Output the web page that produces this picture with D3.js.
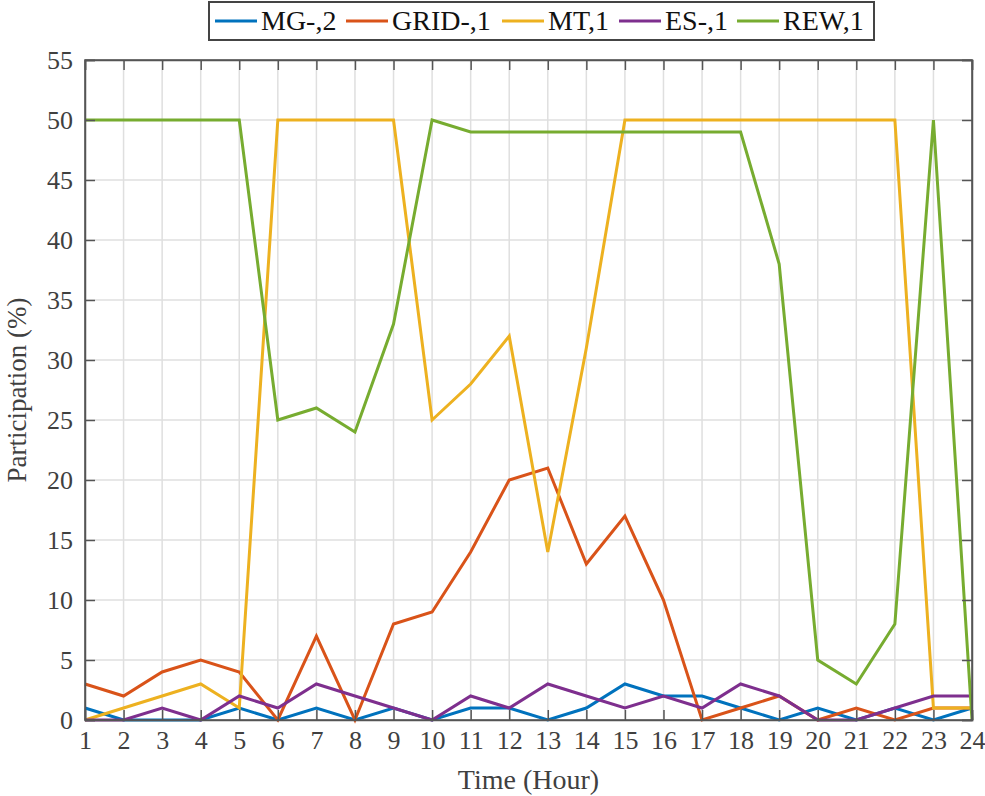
<!DOCTYPE html>
<html><head><meta charset="utf-8">
<script src="https://cdn.jsdelivr.net/npm/d3@7"></script>
<style>body{margin:0;background:#fff}</style>
</head><body>
<script>
const hours = d3.range(1, 25);
const seriesNames = ["MG-,2", "GRID-,1", "MT,1", "ES-,1", "REW,1"];
const colors = ["#0072BD", "#D95319", "#EDB120", "#7E2F8E", "#77AC30"];
const mg   = [1,0,0,0,1,0,1,0,1,0,1,1,0,1,3,2,2,1,0,1,0,1,0,1];
const grid = [3,2,4,5,4,0,7,0,8,9,14,20,21,13,17,10,0,1,2,0,1,0,1,1];
const mt   = [0,1,2,3,1,50,50,50,50,25,28,32,14,31,50,50,50,50,50,50,50,50,1,1];
const es   = [0,0,1,0,2,1,3,2,1,0,2,1,3,2,1,2,1,3,2,0,0,1,2,2];
const rew  = [50,50,50,50,50,25,26,24,33,50,49,49,49,49,49,49,49,49,38,5,3,8,50,0];
const yTicks = d3.range(0, 56, 5);
const allSeries = [mg, grid, mt, es, rew];

const W = 985, H = 796;
const L = 85, R = 972, T = 60, B = 720;
const FONT = "'Liberation Serif','Times New Roman',serif";
const svg = d3.select("body").append("svg").attr("width", W).attr("height", H)
  .style("font-family", FONT);

const x = d3.scaleLinear().domain([1, 24]).range([L, R]);
const y = d3.scaleLinear().domain([0, 55]).range([B, T]);

// grid
const g = svg.append("g");
g.selectAll(".vg").data(hours).enter().append("line")
  .attr("x1", d => x(d)).attr("x2", d => x(d)).attr("y1", T).attr("y2", B)
  .attr("stroke", "#dfdfdf").attr("stroke-width", 1.5);
g.selectAll(".hg").data(yTicks).enter().append("line")
  .attr("y1", d => y(d)).attr("y2", d => y(d)).attr("x1", L).attr("x2", R)
  .attr("stroke", "#dfdfdf").attr("stroke-width", 1.5);

// lines
const line = d3.line().x((d, i) => x(hours[i])).y(d => y(d));
allSeries.forEach((s, k) => {
  svg.append("path").datum(s).attr("d", line).attr("fill", "none")
    .attr("stroke", colors[k]).attr("stroke-width", 3).attr("stroke-linejoin", "miter");
});

// axes box
const axc = "#555";
svg.append("rect").attr("x", L).attr("y", T).attr("width", R - L).attr("height", B - T)
  .attr("fill", "none").attr("stroke", axc).attr("stroke-width", 1.5);

// axes
const xa = svg.append("g").attr("transform", `translate(0,${B})`)
  .call(d3.axisBottom(x).tickValues(hours).tickSize(-10).tickPadding(11).tickFormat(d3.format("d")));
const xTop = svg.append("g").attr("transform", `translate(0,${T})`)
  .call(d3.axisTop(x).tickValues(hours).tickSize(-10).tickFormat(""));
const ya = svg.append("g").attr("transform", `translate(${L},0)`)
  .call(d3.axisLeft(y).tickValues(yTicks).tickSize(-10).tickPadding(12));
const yR = svg.append("g").attr("transform", `translate(${R},0)`)
  .call(d3.axisRight(y).tickValues(yTicks).tickSize(-10).tickFormat(""));
[xa, xTop, ya, yR].forEach(a => {
  a.select(".domain").attr("stroke", axc).attr("stroke-width", 1.5);
  a.selectAll(".tick line").attr("stroke", axc).attr("stroke-width", 1.5);
  a.selectAll("text").attr("fill", "#404040").style("font-size", "26px")
    .style("font-family", FONT);
});

// axis labels
svg.append("text").attr("x", (L + R) / 2).attr("y", 789).attr("text-anchor", "middle")
  .attr("fill", "#404040").style("font-size", "28px").text("Time (Hour)");
svg.append("text").attr("transform", `translate(26,${(T + B) / 2}) rotate(-90)`)
  .attr("text-anchor", "middle").attr("fill", "#404040").style("font-size", "27px")
  .text("Participation (%)");

// legend
const lg = svg.append("g");
lg.append("rect").attr("x", 209).attr("y", 2).attr("width", 665).attr("height", 38)
  .attr("fill", "#fff").attr("stroke", "#444").attr("stroke-width", 2);
const legX = [215, 346, 502, 619, 737];
seriesNames.forEach((n, k) => {
  lg.append("line").attr("x1", legX[k]).attr("x2", legX[k] + 42).attr("y1", 21).attr("y2", 21)
    .attr("stroke", colors[k]).attr("stroke-width", 3);
  lg.append("text").attr("x", legX[k] + 46).attr("y", 30).attr("fill", "#111")
    .style("font-size", "28px").text(n);
});
</script>
</body></html>
